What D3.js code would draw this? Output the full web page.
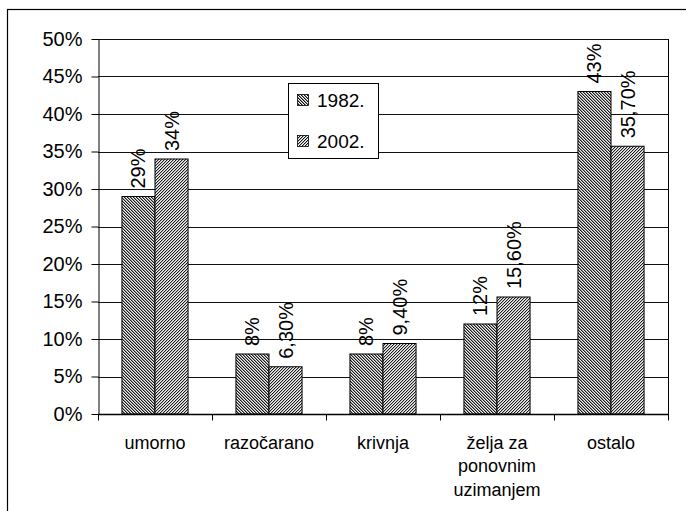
<!DOCTYPE html>
<html>
<head>
<meta charset="utf-8">
<script src="https://cdn.jsdelivr.net/npm/d3@7"></script>
<style>
  body { margin: 0; background: #fff; }
  svg { font-family: Arial, "Liberation Sans", sans-serif; }
</style>
</head>
<body>
<script>
// chart data
var categories = [["umorno"], ["razočarano"], ["krivnja"], ["želja za", "ponovnim", "uzimanjem"], ["ostalo"]];
var series = ["1982.", "2002."];
var values1982 = [29, 8, 8, 12, 43];
var values2002 = [34, 6.3, 9.4, 15.6, 35.7];
var labels1982 = ["29%", "8%", "8%", "12%", "43%"];
var labels2002 = ["34%", "6,30%", "9,40%", "15,60%", "35,70%"];
var yTicks = [0, 5, 10, 15, 20, 25, 30, 35, 40, 45, 50];

var width = 686, height = 511;
var margin = { top: 39, right: 18, bottom: 97, left: 98 };
var w = width - margin.left - margin.right,
    h = height - margin.top - margin.bottom;

var svg = d3.select("body").append("svg")
  .attr("width", width)
  .attr("height", height);

// fine pixel hatch patterns, 3x3 tiles
var defs = svg.append("defs");
function hatch(id, dir, light) {
  var p = defs.append("pattern")
    .attr("id", id)
    .attr("patternUnits", "userSpaceOnUse")
    .attr("width", 3).attr("height", 3);
  p.append("rect").attr("width", 3).attr("height", 3).attr("fill", "#fff");
  for (var py = 0; py < 3; py++) {
    for (var px = 0; px < 3; px++) {
      var k = dir > 0 ? (px + py) % 3 : ((px - py) % 3 + 3) % 3;
      if (k < 2) {
        p.append("rect").attr("x", px).attr("y", py)
          .attr("width", 1).attr("height", 1)
          .attr("fill", k === 0 ? "#111" : light)
          .attr("shape-rendering", "crispEdges");
      }
    }
  }
}
hatch("h1982", -1, "#8a8a8a");
hatch("h2002", 1, "#b0b0b0");

// outer frame
svg.append("rect")
  .attr("x", 7.5).attr("y", 9.5)
  .attr("width", 720).attr("height", 540)
  .attr("fill", "none").attr("stroke", "#000").attr("stroke-width", 1.2);

var g = svg.append("g")
  .attr("transform", "translate(" + margin.left + "," + margin.top + ")");

var x = d3.scaleBand()
  .domain(d3.range(categories.length))
  .range([0, w])
  .paddingInner(0.42)
  .paddingOuter(0.21);

var xc = d3.scaleBand().domain(d3.range(categories.length)).range([0, w]);

var x1 = d3.scaleBand().domain(series).range([0, x.bandwidth()]);

var y = d3.scaleLinear().domain([0, 50]).range([h, 0]);

// gridlines
g.append("g")
  .selectAll("line")
  .data(yTicks.slice(1))
  .enter().append("line")
  .attr("x1", 0).attr("x2", w)
  .attr("y1", function (d) { return Math.round(y(d)) + 0.5; })
  .attr("y2", function (d) { return Math.round(y(d)) + 0.5; })
  .attr("stroke", "#111").attr("stroke-width", 1);

// right edge of plot
g.append("line")
  .attr("x1", w + 0.5).attr("x2", w + 0.5)
  .attr("y1", 0).attr("y2", h + 6)
  .attr("stroke", "#000");

// y axis
var yAxis = g.append("g")
  .attr("transform", "translate(0.5,0)")
  .call(d3.axisLeft(y).tickValues(yTicks).tickSize(7).tickSizeOuter(0)
    .tickFormat(function (d) { return d + "%"; }));
yAxis.select(".domain").attr("stroke", "#000");
yAxis.selectAll("text").attr("font-size", 20).attr("fill", "#000").attr("dx", -6);
yAxis.selectAll(".tick line").attr("stroke", "#000");

// bars
var groups = g.selectAll(".grp")
  .data(categories)
  .enter().append("g")
  .attr("class", "grp")
  .attr("transform", function (d, i) { return "translate(" + x(i) + ",0)"; });

var rows = categories.map(function (c, i) {
  return [
    { s: series[0], v: values1982[i], label: labels1982[i], fill: "url(#h1982)" },
    { s: series[1], v: values2002[i], label: labels2002[i], fill: "url(#h2002)" }
  ];
});

groups.selectAll("rect")
  .data(function (d, i) { return rows[i]; })
  .enter().append("rect")
  .attr("x", function (d) { return x1(d.s); })
  .attr("y", function (d) { return y(d.v); })
  .attr("width", x1.bandwidth())
  .attr("height", function (d) { return h - y(d.v); })
  .attr("fill", function (d) { return d.fill; })
  .attr("stroke", "#000").attr("stroke-width", 1);

groups.selectAll(".val")
  .data(function (d, i) { return rows[i]; })
  .enter().append("text")
  .attr("class", "val")
  .attr("transform", function (d) {
    return "translate(" + (x1(d.s) + x1.bandwidth() / 2 + 7) + "," + (y(d.v) - 8) + ") rotate(-90)";
  })
  .attr("font-size", 20)
  .text(function (d) { return d.label; });

// x axis
var xAxis = g.append("g")
  .attr("transform", "translate(0," + (h + 0.5) + ")");
xAxis.append("line")
  .attr("x1", 0).attr("x2", w).attr("stroke", "#000").attr("stroke-width", 1.5);
xAxis.selectAll(".tk")
  .data(d3.range(categories.length + 1))
  .enter().append("line")
  .attr("x1", function (i) { return Math.round(i * xc.step()) + 0.5; })
  .attr("x2", function (i) { return Math.round(i * xc.step()) + 0.5; })
  .attr("y1", 0).attr("y2", 6)
  .attr("stroke", "#000");

xAxis.selectAll(".cat")
  .data(categories)
  .enter().append("text")
  .attr("class", "cat")
  .attr("x", function (d, i) { return xc(i) + xc.bandwidth() / 2; })
  .attr("y", 34)
  .attr("text-anchor", "middle")
  .attr("font-size", 18)
  .each(function (d) {
    var t = d3.select(this);
    d.forEach(function (line, k) {
      t.append("tspan")
        .attr("x", t.attr("x"))
        .attr("dy", k === 0 ? 0 : 23.5)
        .text(line);
    });
  });

// legend
var legend = svg.append("g").attr("transform", "translate(288,83)");
legend.append("rect")
  .attr("x", 0.5).attr("y", 0.5)
  .attr("width", 90).attr("height", 75)
  .attr("fill", "#fff").attr("stroke", "#000");
var items = legend.selectAll(".li")
  .data([{ s: series[0], fill: "url(#h1982)" }, { s: series[1], fill: "url(#h2002)" }])
  .enter().append("g")
  .attr("transform", function (d, i) { return "translate(9," + (11 + i * 41) + ")"; });
items.append("rect")
  .attr("x", 0.5).attr("y", 0.5)
  .attr("width", 11).attr("height", 11)
  .attr("fill", function (d) { return d.fill; })
  .attr("stroke", "#000").attr("stroke-width", 0.8);
items.append("text")
  .attr("x", 20).attr("y", 12.5)
  .attr("font-size", 19)
  .text(function (d) { return d.s; });
</script>
</body>
</html>
